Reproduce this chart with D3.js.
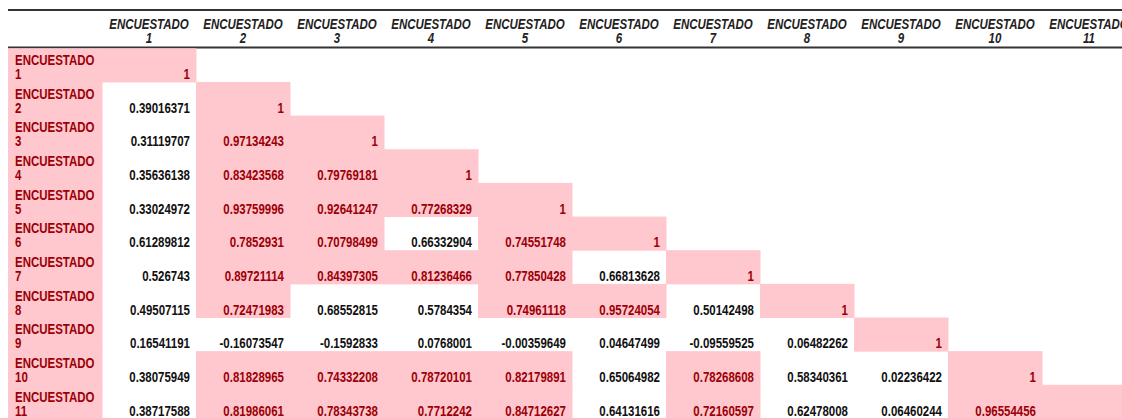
<!DOCTYPE html>
<html>
<head>
<meta charset="utf-8">
<script src="https://d3js.org/d3.v7.min.js"></script>
<style>
  body { margin: 0; background: #fff; }
  text { font-family: "Liberation Sans", Arial, sans-serif; font-weight: bold; font-size: 14px; }
</style>
</head>
<body>
<svg id="chart"></svg>
<script>
var width = 1122, height = 418;

var labels = ["ENCUESTADO 1","ENCUESTADO 2","ENCUESTADO 3","ENCUESTADO 4","ENCUESTADO 5","ENCUESTADO 6",
              "ENCUESTADO 7","ENCUESTADO 8","ENCUESTADO 9","ENCUESTADO 10","ENCUESTADO 11"];

// lower triangle of the correlation matrix, one array per row (diagonal = 1)
var row1  = [1];
var row2  = [0.39016371, 1];
var row3  = [0.31119707, 0.97134243, 1];
var row4  = [0.35636138, 0.83423568, 0.79769181, 1];
var row5  = [0.33024972, 0.93759996, 0.92641247, 0.77268329, 1];
var row6  = [0.61289812, 0.7852931, 0.70798499, 0.66332904, 0.74551748, 1];
var row7  = [0.526743, 0.89721114, 0.84397305, 0.81236466, 0.77850428, 0.66813628, 1];
var row8  = [0.49507115, 0.72471983, 0.68552815, 0.5784354, 0.74961118, 0.95724054, 0.50142498, 1];
var row9  = [0.16541191, -0.16073547, -0.1592833, 0.0768001, -0.00359649, 0.04647499, -0.09559525, 0.06482262, 1];
var row10 = [0.38075949, 0.81828965, 0.74332208, 0.78720101, 0.82179891, 0.65064982, 0.78268608, 0.58340361, 0.02236422, 1];
var row11 = [0.38717588, 0.81986061, 0.78343738, 0.7712242, 0.84712627, 0.64131616, 0.72160597, 0.62478008, 0.06460244, 0.96554456, 1];
var rows = [row1,row2,row3,row4,row5,row6,row7,row8,row9,row10,row11];

var threshold = 0.7;
var pinkFill = "#ffc7ce", redText = "#9c0006";
var narrow = 0.82; // squeeze the sans font to look like a narrow face

var cells = [];
rows.forEach(function(r, i) {
  r.forEach(function(v, j) { cells.push({row: i, col: j, value: v}); });
});

var svg = d3.select("#chart").attr("width", width).attr("height", height);

// column 0 holds the row labels, columns 1..11 the values
var x = d3.scaleBand().domain(d3.range(12)).range([8, 8 + 12 * 94]);
var y = d3.scaleBand().domain(d3.range(11)).range([48.3, 48.3 + 11 * 33.65]);

function at(px, py) { return "translate(" + px + "," + py + ") scale(" + narrow + ",1)"; }

// header rules
svg.append("line").attr("x1", 8).attr("x2", width).attr("y1", 10).attr("y2", 10)
  .attr("stroke", "#333").attr("stroke-width", 2);
svg.append("line").attr("x1", 8).attr("x2", width).attr("y1", 47.5).attr("y2", 47.5)
  .attr("stroke", "#333").attr("stroke-width", 2);

// header labels
var hg = svg.append("g");
labels.forEach(function(d, i) {
  var cx = x(i + 1) + x.bandwidth() / 2;
  var parts = d.split(" ");
  hg.append("text").attr("transform", at(cx, 29)).attr("text-anchor", "middle")
    .attr("fill", "#222").style("font-style", "italic").text(parts[0]);
  hg.append("text").attr("transform", at(cx, 43)).attr("text-anchor", "middle")
    .attr("fill", "#222").style("font-style", "italic").text(parts[1]);
});

// row label cells
svg.append("g").selectAll("rect").data(labels).enter().append("rect")
  .attr("x", x(0)).attr("width", x.bandwidth() + 0.5)
  .attr("y", function(d, i) { return y(i); }).attr("height", y.bandwidth() + 0.5)
  .attr("fill", pinkFill);
var rg = svg.append("g");
labels.forEach(function(d, i) {
  var parts = d.split(" ");
  rg.append("text").attr("transform", at(x(0) + 7, y(i) + 16.8)).attr("fill", redText).text(parts[0]);
  rg.append("text").attr("transform", at(x(0) + 7, y(i) + 30.8)).attr("fill", redText).text(parts[1]);
});

// value cells
svg.append("g").selectAll("rect").data(cells.filter(function(d) { return d.value > threshold; }))
  .enter().append("rect")
  .attr("x", function(d) { return x(d.col + 1); }).attr("width", x.bandwidth() + 0.5)
  .attr("y", function(d) { return y(d.row); }).attr("height", y.bandwidth() + 0.5)
  .attr("fill", pinkFill);

svg.append("g").selectAll("text").data(cells).enter().append("text")
  .attr("text-anchor", "end")
  .attr("transform", function(d) { return at(x(d.col + 1) + x.bandwidth() - 6, y(d.row) + 30.8); })
  .attr("fill", function(d) { return d.value > threshold ? redText : "#111"; })
  .text(function(d) { return String(d.value); });
</script>
</body>
</html>
